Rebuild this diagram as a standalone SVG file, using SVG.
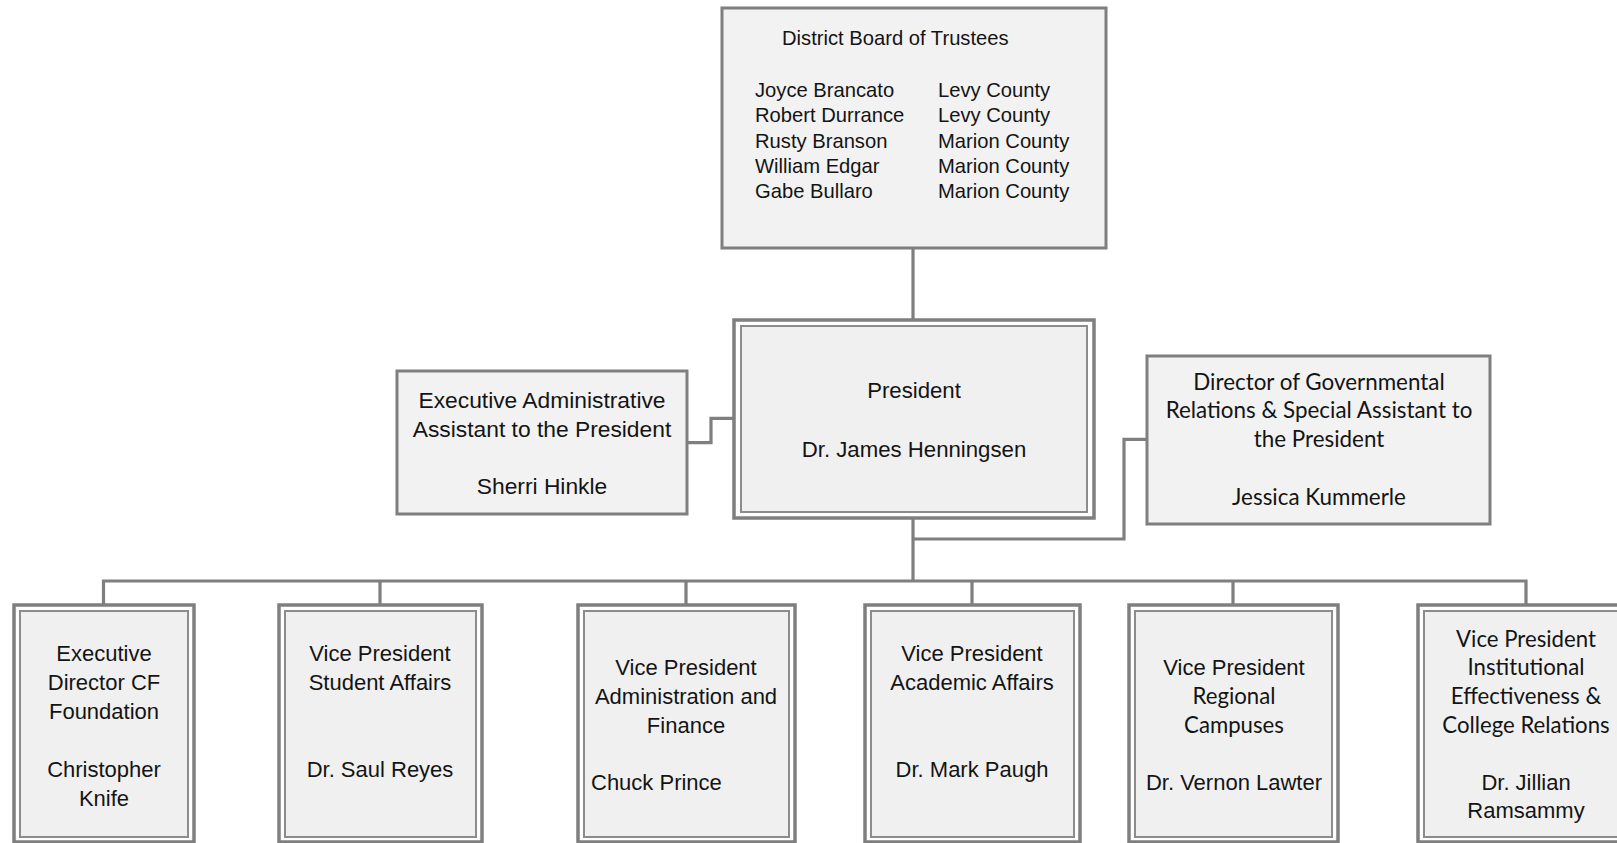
<svg xmlns="http://www.w3.org/2000/svg" width="1617" height="843" viewBox="0 0 1617 843">
<style>
.single{fill:#f2f2f2;stroke:#7f7f7f;stroke-width:3}
.outer{fill:#ffffff;stroke:#7f7f7f;stroke-width:3.5}
.inner{fill:#f0f0f0;stroke:#8c8c8c;stroke-width:2}
.conn{fill:none;stroke:#7f7f7f;stroke-width:3.2}
text{font-family:"Liberation Sans",Arial,sans-serif;fill:#141414}
.t19{font-size:20.2px}
.t22{font-size:22.2px;text-anchor:middle}
.t21{font-size:22px;text-anchor:middle}
.cal{font-family:Lato,"Liberation Sans",sans-serif;font-size:22.2px;text-anchor:middle}
</style>
<g id="connectors">
<path class="conn" d="M913 248V320"/>
<path class="conn" d="M687 442.7H711V418.3H733"/>
<path class="conn" d="M1147 439.3H1124V539H913"/>
<path class="conn" d="M913 518V581"/>
<path class="conn" d="M103.5 604V581H1526V604"/>
<path class="conn" d="M380 581V604M686 581V604M972 581V604M1233 581V604"/>
</g>
<g id="board">
<rect class="single" x="722" y="8" width="384" height="240"/>
<text class="t19" x="782" y="45">District Board of Trustees</text>
<text class="t19" x="755" y="96.7">Joyce Brancato</text>
<text class="t19" x="755" y="121.7">Robert Durrance</text>
<text class="t19" x="755" y="147.5">Rusty Branson</text>
<text class="t19" x="755" y="172.5">William Edgar</text>
<text class="t19" x="755" y="198">Gabe Bullaro</text>
<text class="t19" x="938" y="96.7">Levy County</text>
<text class="t19" x="938" y="121.7">Levy County</text>
<text class="t19" x="938" y="147.5">Marion County</text>
<text class="t19" x="938" y="172.5">Marion County</text>
<text class="t19" x="938" y="198">Marion County</text>
</g>
<g id="president">
<rect class="outer" x="734" y="320" width="360" height="198"/>
<rect class="inner" x="741" y="326" width="346" height="186"/>
<text class="t22" x="914" y="398">President</text>
<text class="t22" x="914" y="456.7">Dr. James Henningsen</text>
</g>
<g id="exec-admin">
<rect class="single" x="397" y="371" width="290" height="143"/>
<text class="t22" x="542" y="408" style="font-size:22.8px">Executive Administrative</text>
<text class="t22" x="542" y="437" style="font-size:22.8px">Assistant to the President</text>
<text class="t22" x="542" y="494" style="font-size:22.8px">Sherri Hinkle</text>
</g>
<g id="director-gov">
<rect class="single" x="1147" y="356" width="343" height="168"/>
<text class="cal" x="1319" y="390" style="font-size:22.4px">Director of Governmental</text>
<text class="cal" x="1319" y="418.3" style="font-size:22.4px">Relations &amp; Special Assistant to</text>
<text class="cal" x="1319" y="446.7" style="font-size:22.4px">the President</text>
<text class="cal" x="1319" y="505" style="font-size:22.4px">Jessica Kummerle</text>
</g>
<g id="cf-foundation">
<rect class="outer" x="14" y="605" width="180" height="237"/>
<rect class="inner" x="20" y="611" width="168" height="226"/>
<text class="t21" x="104" y="661">Executive</text>
<text class="t21" x="104" y="690">Director CF</text>
<text class="t21" x="104" y="719">Foundation</text>
<text class="t21" x="104" y="777">Christopher</text>
<text class="t21" x="104" y="806">Knife</text>
</g>
<g id="vp-student">
<rect class="outer" x="279" y="605" width="203" height="237"/>
<rect class="inner" x="285" y="611" width="191" height="226"/>
<text class="t21" x="380" y="661">Vice President</text>
<text class="t21" x="380" y="690">Student Affairs</text>
<text class="t21" x="380" y="777">Dr. Saul Reyes</text>
</g>
<g id="vp-admin">
<rect class="outer" x="578" y="605" width="217" height="237"/>
<rect class="inner" x="584" y="611" width="205" height="226"/>
<text class="t21" x="686" y="675">Vice President</text>
<text class="t21" x="686" y="704">Administration and</text>
<text class="t21" x="686" y="733">Finance</text>
<text class="t21" x="591" y="790" style="text-anchor:start">Chuck Prince</text>
</g>
<g id="vp-academic">
<rect class="outer" x="865" y="605" width="215" height="237"/>
<rect class="inner" x="871" y="611" width="203" height="226"/>
<text class="t21" x="972" y="661">Vice President</text>
<text class="t21" x="972" y="690">Academic Affairs</text>
<text class="t21" x="972" y="777">Dr. Mark Paugh</text>
</g>
<g id="vp-regional">
<rect class="outer" x="1129" y="605" width="209" height="237"/>
<rect class="inner" x="1135" y="611" width="197" height="226"/>
<text class="t21" x="1234" y="675">Vice President</text>
<text class="cal" x="1234" y="704">Regional</text>
<text class="cal" x="1234" y="733">Campuses</text>
<text class="t21" x="1234" y="790">Dr. Vernon Lawter</text>
</g>
<g id="vp-institutional">
<rect class="outer" x="1418" y="605" width="220" height="237"/>
<rect class="inner" x="1424" y="611" width="208" height="226"/>
<text class="cal" x="1526" y="647">Vice President</text>
<text class="cal" x="1526" y="675">Institutional</text>
<text class="cal" x="1526" y="704">Effectiveness &amp;</text>
<text class="cal" x="1526" y="733">College Relations</text>
<text class="t21" x="1526" y="790">Dr. Jillian</text>
<text class="t21" x="1526" y="818">Ramsammy</text>
</g>
</svg>
